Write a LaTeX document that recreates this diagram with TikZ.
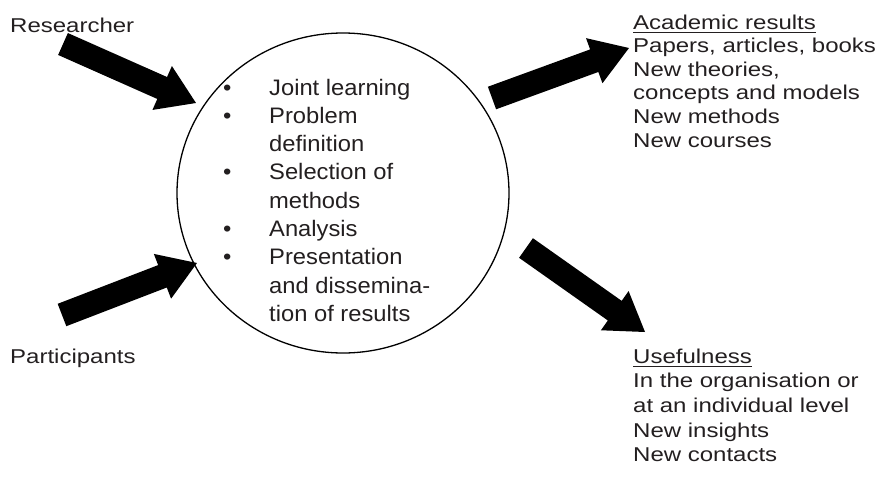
\documentclass[tikz,border=0pt]{standalone}
\usepackage{fontspec}
\setmainfont{Liberation Sans}
\newfontfamily\lfont[FakeStretch=1.2]{Liberation Sans}
\newfontfamily\cfont[FakeStretch=1.06]{Liberation Sans}
\usetikzlibrary{calc,shapes.geometric}
\definecolor{txt}{RGB}{35,31,32}
\newcommand\ulin[1]{\setbox0\hbox{#1}\rlap{\rule[-3.9pt]{\wd0}{1.3pt}}\box0}
\newcommand\fatarrow[2]{\fill[black] let \p1=(#1), \p2=(#2),
  \n1={atan2(\y2-\y1,\x2-\x1)}, \n2={veclen(\x2-\x1,\y2-\y1)} in
  [shift={(\p1)}, rotate=\n1] (0,12) -- ({\n2-37},12) -- ({\n2-37},24) -- ({\n2},0)
  -- ({\n2-37},-24) -- ({\n2-37},-12) -- (0,-12) -- cycle;}
\tikzset{
  lab/.style={anchor=base west, inner sep=0pt, text=txt, font=\lfont\fontsize{20pt}{23.6pt}\selectfont},
  circtext/.style={anchor=base west, inner sep=0pt, text=txt, font=\cfont\fontsize{22.4pt}{28.3pt}\selectfont},
  proc/.style={ellipse, draw=black, line width=1.3pt, minimum width=332pt, minimum height=320pt, inner sep=0pt}
}
\begin{document}
\begin{tikzpicture}[x=1pt,y=-1pt]
\useasboundingbox (0,0) rectangle (878,477);
\node[proc] (circ) at (343,193) {};
\node[circtext] (list) at (223,95) {\begin{tabular}[t]{@{}p{46pt}@{}l@{}}
\textbullet & Joint learning\\
\textbullet & Problem\\
 & definition\\
\textbullet & Selection of\\
 & methods\\
\textbullet & Analysis\\
\textbullet & Presentation\\
 & and dissemina-\\
 & tion of results
\end{tabular}};
\node[lab] (res) at (10,32) {Researcher};
\node[lab] (par) at (10,363) {Participants};
\node[lab] (acad) at (633,29) {\begin{tabular}[t]{@{}l@{}}
\ulin{Academic results}\\
Papers, articles, books\\
New theories,\\
concepts and models\\
New methods\\
New courses
\end{tabular}};
\node[lab, font=\lfont\fontsize{20pt}{24.7pt}\selectfont] (use) at (633,363) {\begin{tabular}[t]{@{}l@{}}
\ulin{Usefulness}\\
In the organisation or\\
at an individual level\\
New insights\\
New contacts
\end{tabular}};
\coordinate (rt) at (63,44);  \coordinate (rh) at (196,103);
\coordinate (pt) at (62,315); \coordinate (ph) at (197,263);
\coordinate (at) at (492,98); \coordinate (ah) at (629,48);
\coordinate (ut) at (526,248); \coordinate (uh) at (645,332);
\fatarrow{rt}{rh}
\fatarrow{pt}{ph}
\fatarrow{at}{ah}
\fatarrow{ut}{uh}
\end{tikzpicture}
\end{document}
